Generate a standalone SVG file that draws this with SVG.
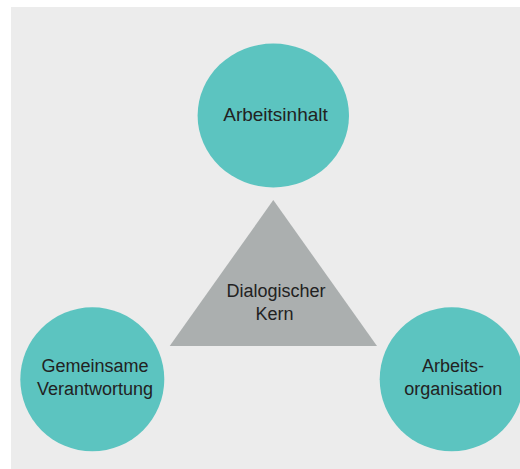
<svg xmlns="http://www.w3.org/2000/svg" width="520" height="469" viewBox="0 0 520 469">
<style>
.node{fill:#5cc4c0}
.core{fill:#abafaf}
.t{font-family:"Liberation Sans",Arial,sans-serif;font-size:18px;fill:#222;text-anchor:middle}
</style>
<rect x="0" y="0" width="520" height="469" fill="#ffffff"/>
<rect x="11" y="7" width="509" height="462" fill="#ececec"/>
<g id="connectors"></g>
<g id="kern">
<polygon class="core" points="273.3,200 377,346 169.7,346"/>
<text class="t" x="276" y="297">Dialogischer</text>
<text class="t" x="274.5" y="320">Kern</text>
</g>
<g id="arbeitsinhalt">
<ellipse class="node" cx="273.3" cy="115.5" rx="75.7" ry="72"/>
<text class="t" x="275.5" y="121" style="font-size:19px">Arbeitsinhalt</text>
</g>
<g id="gemeinsame">
<circle class="node" cx="92.3" cy="379.3" r="72"/>
<text class="t" x="95" y="372">Gemeinsame</text>
<text class="t" x="95" y="395">Verantwortung</text>
</g>
<g id="organisation">
<circle class="node" cx="451.7" cy="379.3" r="72"/>
<text class="t" x="453" y="372">Arbeits-</text>
<text class="t" x="453.3" y="395">organisation</text>
</g>
</svg>
